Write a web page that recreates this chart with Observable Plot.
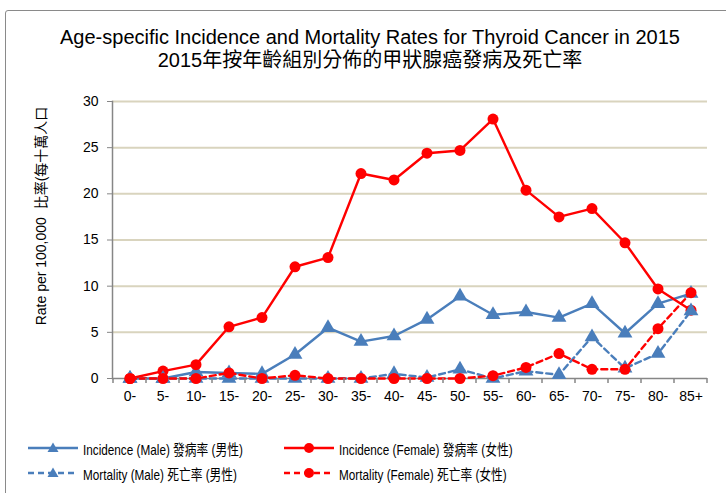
<!DOCTYPE html>
<html>
<head>
<meta charset="utf-8">
<script src="https://cdn.jsdelivr.net/npm/d3@7"></script>
<script src="https://cdn.jsdelivr.net/npm/@observablehq/plot@0.6"></script>
<style>
  html, body { margin: 0; padding: 0; background: #fff; overflow: hidden; }
  body { width: 726px; height: 493px; position: relative;
         font-family: "Liberation Sans", Arial, "Noto Sans CJK TC", sans-serif; color: #000; }
  #frame { position: absolute; left: 5px; top: 10px; width: 900px; height: 700px;
           border: 1.5px solid #8a8a8a; border-radius: 3px; box-sizing: border-box; }
  #title { position: absolute; left: 5px; width: 730px; top: 26px; text-align: center;
           font-size: 20px; line-height: 23px; }
  #chart { position: absolute; left: 0; top: 80px; }
  #ytitle { position: absolute; left: 40px; top: 216px; transform: translate(-50%, -50%) rotate(-90deg);
            white-space: nowrap; font-size: 14px; }
  .leg { position: absolute; display: flex; align-items: center; font-size: 14.5px; white-space: nowrap; }
  .leg svg { margin-right: 5px; }
  .leg span { display: inline-block; transform: scaleX(0.81); transform-origin: left center; }
</style>
</head>
<body>
<div id="frame"></div>
<div id="title">Age-specific Incidence and Mortality Rates for Thyroid Cancer in 2015<br>2015年按年齡組別分佈的甲狀腺癌發病及死亡率</div>
<div id="chart"></div>
<div id="ytitle">Rate per 100,000&nbsp; 比率(每十萬人口</div>
<div id="legend"></div>
<script>
const ages = ["0-","5-","10-","15-","20-","25-","30-","35-","40-","45-","50-","55-","60-","65-","70-","75-","80-","85+"];
const incidenceMale   = [0, 0, 0.7, 0.6, 0.5, 2.6, 5.5, 4.0, 4.6, 6.4, 8.9, 6.9, 7.2, 6.6, 8.1, 4.9, 8.1, 9.2];
const incidenceFemale = [0, 0.8, 1.5, 5.6, 6.6, 12.1, 13.1, 22.2, 21.5, 24.4, 24.7, 28.1, 20.4, 17.5, 18.4, 14.7, 9.7, 7.4];
const mortalityMale   = [0, 0, 0, 0, 0, 0, 0, 0, 0.5, 0.1, 1.0, 0, 0.8, 0.4, 4.5, 1.1, 2.7, 7.3];
const mortalityFemale = [0, 0, 0, 0.6, 0, 0.35, 0, 0, 0, 0, 0, 0.3, 1.2, 2.7, 1.0, 1.0, 5.4, 9.3];
const yTicks = [0, 5, 10, 15, 20, 25, 30];

const seriesNames = ["Incidence (Male) 發病率 (男性)", "Incidence (Female) 發病率 (女性)",
                     "Mortality (Male) 死亡率 (男性)", "Mortality (Female) 死亡率 (女性)"];
const seriesValues = [incidenceMale, incidenceFemale, mortalityMale, mortalityFemale];
const BLUE = "#4a7ebb", RED = "#ff0000";
const seriesStyle = [
  {color: BLUE, dash: null, symbol: "triangle"},
  {color: RED, dash: null, symbol: "circle"},
  {color: BLUE, dash: "6,4", symbol: "triangle"},
  {color: RED, dash: "6,4", symbol: "circle"}
];

const marks = [
  Plot.gridY(yTicks.filter(d => d > 0), {stroke: "#d9d4be", strokeOpacity: 1, strokeWidth: 2}),
  Plot.frame({anchor: "left", stroke: "#868686", strokeWidth: 1.5}),
  Plot.ruleY([0], {stroke: "#868686", strokeWidth: 1.5}),
  Plot.axisY({ticks: yTicks, tickSize: 5, tickPadding: 9, label: null, stroke: "#868686", fontSize: 14}),
  Plot.axisX({tickSize: 0, tickPadding: 13, label: null, fontSize: 14})
];
seriesValues.forEach((vals, i) => {
  const rows = ages.map((a, j) => ({age: a, v: vals[j]}));
  const s = seriesStyle[i];
  marks.push(Plot.line(rows, {x: "age", y: "v", stroke: s.color, strokeWidth: 2.4, strokeDasharray: s.dash}));
  marks.push(Plot.dot(rows, {x: "age", y: "v", fill: s.color, stroke: "none", symbol: s.symbol, r: 5.5}));
});

const plot = Plot.plot({
  width: 726, height: 340,
  marginTop: 21, marginBottom: 42, marginLeft: 112, marginRight: 19,
  style: {fontFamily: '"Liberation Sans", Arial, sans-serif', fontSize: "14px", color: "#000", background: "transparent", overflow: "visible"},
  x: {type: "band", domain: ages, padding: 0, label: null},
  y: {domain: [0, 30], label: null},
  marks
});
document.getElementById("chart").appendChild(plot);

// category boundary tick marks below the x axis
const sx = plot.scale("x"), sy = plot.scale("y");
const bounds = ages.map(a => sx.apply(a)).concat([sx.apply(ages[ages.length - 1]) + sx.bandwidth]);
const y0 = sy.apply(0);
d3.select(plot).append("g").selectAll("line").data(bounds).join("line")
  .attr("x1", d => d).attr("x2", d => d).attr("y1", y0).attr("y2", y0 + 5)
  .attr("stroke", "#868686").attr("stroke-width", 1.5);

// legend
const legendPos = [[28, 448], [284, 448], [28, 473], [284, 473]];
const legend = document.getElementById("legend");
seriesNames.forEach((name, i) => {
  const s = seriesStyle[i];
  const div = document.createElement("div");
  div.className = "leg";
  div.style.left = legendPos[i][0] + "px";
  div.style.top = (legendPos[i][1] - 10) + "px";
  div.style.height = "20px";
  const marker = s.symbol === "circle"
    ? `<circle cx="25" cy="10" r="5" fill="${s.color}"/>`
    : `<path d="M25,4.5 L30.5,14 L19.5,14 Z" fill="${s.color}"/>`;
  div.innerHTML = `<svg width="50" height="20"><line x1="0" x2="50" y1="10" y2="10" stroke="${s.color}" stroke-width="2.5" ${s.dash ? `stroke-dasharray="${s.dash}"` : ""}/>${marker}</svg><span>${name}</span>`;
  legend.appendChild(div);
});
</script>
</body>
</html>
